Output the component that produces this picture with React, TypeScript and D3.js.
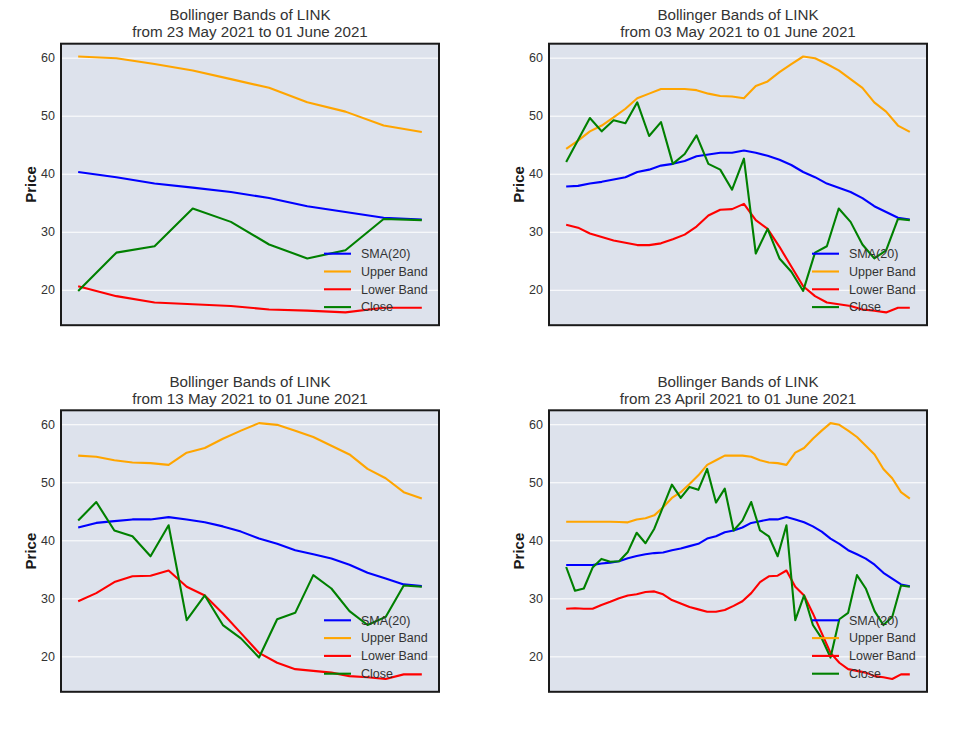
import React, { useEffect, useRef } from "react";
import * as d3 from "d3";

// ── Dados (40 pregões até 01 June 2021) ─────────────────────────────────────
const closePrices = [
    35.4, 31.3, 31.7, 35.3, 36.8, 36.3, 36.4, 38.0, 41.3, 39.5,
    42.0, 45.8, 49.6, 47.3, 49.2, 48.7, 52.3, 46.5, 48.9, 41.7,
    43.4, 46.6, 41.7, 40.7, 37.25, 42.6, 26.25, 30.5, 25.4, 23.1,
    19.8, 26.4, 27.5, 34.0, 31.7, 27.8, 25.4, 26.8, 32.2, 32.0,
];
const sma20 = [
    35.75, 35.75, 35.75, 35.75, 36.0, 36.15, 36.4, 36.9, 37.3, 37.6,
    37.8, 37.9, 38.3, 38.6, 39.0, 39.4, 40.3, 40.7, 41.4, 41.7,
    42.2, 43.0, 43.3, 43.6, 43.6, 44.0, 43.6, 43.1, 42.4, 41.5,
    40.3, 39.4, 38.3, 37.6, 36.85, 35.8, 34.4, 33.4, 32.4, 32.1,
];
const upperBand = [
    43.2, 43.2, 43.2, 43.2, 43.2, 43.2, 43.15, 43.1, 43.6, 43.8,
    44.3, 45.7, 47.3, 48.3, 49.7, 51.2, 53.0, 53.8, 54.6, 54.6,
    54.6, 54.4, 53.8, 53.4, 53.3, 53.0, 55.1, 55.9, 57.5, 58.9,
    60.2, 59.9, 58.9, 57.8, 56.3, 54.8, 52.3, 50.7, 48.3, 47.2,
];
const lowerBand = [
    28.2, 28.3, 28.2, 28.2, 28.85, 29.4, 30.0, 30.5, 30.7, 31.1,
    31.2, 30.7, 29.7, 29.1, 28.5, 28.1, 27.7, 27.7, 28.0, 28.7,
    29.5, 30.9, 32.8, 33.8, 33.9, 34.8, 32.0, 30.5, 27.4, 24.0,
    20.6, 18.9, 17.8, 17.5, 17.2, 16.6, 16.4, 16.1, 16.9, 16.9,
];

const windowSizes = [10, 30, 20, 40];
const startDates = ["23 May 2021", "03 May 2021", "13 May 2021", "23 April 2021"];
const endDate = "01 June 2021";
const yTicks = [20, 30, 40, 50, 60];

const seriesNames = ["SMA(20)", "Upper Band", "Lower Band", "Close"];
const seriesColors = ["#0000ff", "#ffa500", "#ff0000", "#008000"];

const WIDTH = 976;
const HEIGHT = 732;
const PW = 378;
const PH = 281.5;
const ORIGINS: [number, number][] = [
    [61, 43.7],
    [549, 43.7],
    [61, 410.3],
    [549, 410.3],
];
const FONT = "'Liberation Sans', Arial, Helvetica, sans-serif";

const App: React.FC = () => {
    const svgRef = useRef<SVGSVGElement | null>(null);

    useEffect(() => {
        if (!svgRef.current) return;
        const root = d3.select(svgRef.current);
        root.selectAll("*").remove();

        root.append("rect").attr("width", WIDTH).attr("height", HEIGHT).attr("fill", "#ffffff");

        windowSizes.forEach((n, p) => {
            const [ox, oy] = ORIGINS[p];
            const series = [sma20, upperBand, lowerBand, closePrices].map((s) => s.slice(-n));

            const all = series.flat();
            const lo = d3.min(all) as number;
            const hi = d3.max(all) as number;
            const padY = (hi - lo) * 0.05;
            const padX = (n - 1) * 0.05;

            const x = d3.scaleLinear().domain([-padX, n - 1 + padX]).range([0, PW]);
            const y = d3.scaleLinear().domain([lo - padY, hi + padY]).range([PH, 0]);

            const g = root.append("g").attr("transform", `translate(${ox},${oy})`);

            // ── Fundo e grade ──────────────────────────────────────────────
            g.append("rect").attr("width", PW).attr("height", PH).attr("fill", "#dde2ec");

            g.append("g")
                .call(d3.axisLeft(y).tickValues(yTicks).tickSize(-PW).tickFormat(() => ""))
                .call((a) => a.select(".domain").remove())
                .selectAll("line")
                .attr("stroke", "#ffffff")
                .attr("stroke-width", 1);

            // ── Rótulos do eixo Y ──────────────────────────────────────────
            g.selectAll("text.ytick")
                .data(yTicks)
                .enter()
                .append("text")
                .attr("class", "ytick")
                .attr("x", -6)
                .attr("y", (d) => y(d))
                .attr("dy", "0.35em")
                .attr("text-anchor", "end")
                .attr("font-family", FONT)
                .attr("font-size", 12.5)
                .attr("fill", "#333333")
                .text((d) => d);

            g.append("text")
                .attr("transform", `translate(-25,${PH / 2}) rotate(-90)`)
                .attr("text-anchor", "middle")
                .attr("font-family", FONT)
                .attr("font-size", 15)
                .attr("font-weight", "bold")
                .attr("fill", "#1a1a1a")
                .text("Price");

            // ── Título ─────────────────────────────────────────────────────
            const title = g.append("text")
                .attr("text-anchor", "middle")
                .attr("font-family", FONT)
                .attr("font-size", 15.2)
                .attr("fill", "#333333");
            title.append("tspan").attr("x", PW / 2).attr("y", -23.5).text("Bollinger Bands of LINK");
            title.append("tspan").attr("x", PW / 2).attr("y", -6.5)
                .text(`from ${startDates[p]} to ${endDate}`);

            // ── Linhas ─────────────────────────────────────────────────────
            const line = d3.line<number>().x((_, i) => x(i)).y((d) => y(d));
            series.forEach((s, k) => {
                g.append("path")
                    .datum(s)
                    .attr("fill", "none")
                    .attr("stroke", seriesColors[k])
                    .attr("stroke-width", 2.1)
                    .attr("stroke-linejoin", "round")
                    .attr("d", line);
            });

            // ── Legenda ────────────────────────────────────────────────────
            const leg = g.append("g").attr("transform", `translate(${PW - 115},${PH - 71.5})`);
            seriesNames.forEach((name, k) => {
                const ly = k * 17.8;
                leg.append("line")
                    .attr("x1", 0).attr("x2", 27)
                    .attr("y1", ly).attr("y2", ly)
                    .attr("stroke", seriesColors[k])
                    .attr("stroke-width", 2.1);
                leg.append("text")
                    .attr("x", 37)
                    .attr("y", ly)
                    .attr("dy", "0.35em")
                    .attr("font-family", FONT)
                    .attr("font-size", 12.5)
                    .attr("fill", "#333333")
                    .text(name);
            });

            // ── Moldura ────────────────────────────────────────────────────
            g.append("rect")
                .attr("width", PW).attr("height", PH)
                .attr("fill", "none")
                .attr("stroke", "#1a1a1a")
                .attr("stroke-width", 2);
        });
    }, []);

    return (
        <svg
            ref={svgRef}
            width={WIDTH}
            height={HEIGHT}
            style={{ position: "absolute", left: 0, top: 0, display: "block" }}
        />
    );
};

export default App;
